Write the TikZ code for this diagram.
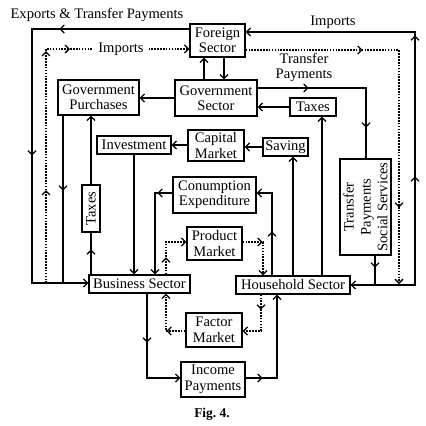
\documentclass[tikz,border=0pt]{standalone}
\usepackage{fontspec}
\setmainfont{Liberation Serif}
\usetikzlibrary{arrows.meta,decorations.markings}
\begin{document}
\begin{tikzpicture}[x=1bp,y=-1bp, line width=1.3bp,
  >={Straight Barb[length=4bp,width=8bp]},
  box/.style={draw, inner sep=0pt, align=center, font=\fontsize{14.6}{15.5}\selectfont},
  lab/.style={inner sep=1pt, align=center, font=\fontsize{14.6}{15.5}\selectfont},
  dot/.style={dash pattern=on 1.6bp off 1.3bp},
  marr/.style={postaction={decorate,decoration={markings,mark=at position #1 with {\arrow[solid]{>}}}}}
]
\useasboundingbox (0,0) rectangle (426,426);
% boxes
\node[box, minimum width=55bp, minimum height=33bp] (foreign) at (217.5,40.5) {Foreign\\Sector};
\node[box, minimum width=82bp, minimum height=36bp] (gov) at (216,98) {Government\\Sector};
\node[box, minimum width=81bp, minimum height=35bp] (govpur) at (98.5,97.5) {Government\\Purchases};
\node[box, minimum width=46bp, minimum height=18bp] (taxesR) at (313,107) {Taxes};
\node[box, minimum width=56bp, minimum height=31bp] (capital) at (216,145.5) {Capital\\Market};
\node[box, minimum width=74bp, minimum height=18bp] (invest) at (134,145) {Investment};
\node[box, minimum width=45bp, minimum height=18bp] (saving) at (285.5,147) {Saving};
\node[box, minimum width=83bp, minimum height=36bp] (consump) at (214.5,195) {Conumption\\Expenditure};
\node[box, minimum width=55bp, minimum height=33bp] (product) at (214.5,243.5) {Product\\Market};
\node[box, rotate=90, minimum width=47bp, minimum height=18bp] (taxesL) at (91,208.5) {Taxes};
\node[box, rotate=90, minimum width=96bp, minimum height=51bp, font=\fontsize{14.6}{17}\selectfont] (transfer) at (365.5,207) {Transfer\\Payments\\Social Services};
\node[box, minimum width=101bp, minimum height=18bp] (business) at (139.5,284) {Business Sector};
\node[box, minimum width=114bp, minimum height=18bp] (household) at (293,285) {Household Sector};
\node[box, minimum width=56bp, minimum height=34bp] (factor) at (214,330) {Factor\\Market};
\node[box, minimum width=64bp, minimum height=35bp] (income) at (213,379.5) {Income\\Payments};
% labels
\node[lab] (expl) at (97,15) {Exports \& Transfer Payments};
\node[lab] (impR) at (333,22) {Imports};
\node[lab] (trl) at (304,67.5) {Transfer\\Payments};
\node[lab, font=\bfseries\fontsize{13.5}{15}\selectfont] (fig) at (212,414) {Fig.\ 4.};
% coordinates
\coordinate (a1) at (32,29); \coordinate (a2) at (32,283);
\coordinate (b0) at (46,283); \coordinate (b1) at (46,49);
\coordinate (fg1) at (224,0); \coordinate (fg2) at (204,0);
\coordinate (d1) at (63,283);
\coordinate (hs) at (293,0); \coordinate (ht) at (322,0);
\coordinate (l1) at (366,88);
\coordinate (m1) at (375,285);
\coordinate (r1) at (415,285); \coordinate (r2) at (415,32);
\coordinate (s1) at (399,50); \coordinate (s2) at (399,284);
\coordinate (n1) at (272,193); \coordinate (o1) at (155,193);
\coordinate (p1) at (166,242); \coordinate (q1) at (263,242);
\coordinate (rr1) at (261,331); \coordinate (ss1) at (166,331);
\coordinate (t1) at (147,378); \coordinate (u1) at (277,378);
% connectors
\draw[->, marr=130bp, marr=284bp] (foreign.west |- a1) -- (a1) -- (a2) -- (business.west |- a2);
\draw[dot, ->, marr=93bp, marr=232bp, marr=258bp] (b0) -- (b1) -- (foreign.west |- b1);
\node[lab, fill=white, inner xsep=5bp] (impL) at (121,49) {Imports};
\draw[->] (fg1 |- foreign.south) -- (fg1 |- gov.north);
\draw[->] (fg2 |- gov.north) -- (fg2 |- foreign.south);
\draw[->] (gov.west) -- (govpur.east |- gov.west);
\draw[marr=75bp] (d1 |- govpur.south) -- (d1);
\draw[marr=25bp] (taxesL |- business.north) -- (taxesL.west);
\draw[->] (taxesL.east) -- (taxesL |- govpur.south);
\draw[->] (invest.south) -- (invest.south |- business.north);
\draw[->] (capital.west |- invest.east) -- (invest.east);
\draw[->] (saving.west) -- (saving.west -| capital.east);
\draw[->] (hs |- household.north) -- (hs |- saving.south);
\draw[->] (ht |- household.north) -- (ht |- taxesR.south);
\draw[->] (taxesR.west) -- (taxesR.west -| gov.east);
\draw[marr=51bp, marr=148bp] (gov.east |- l1) -- (l1) -- (l1 |- transfer.east);
\draw[->, marr=12bp] (m1 |- transfer.west) -- (m1) -- (household.east |- m1);
\draw[->, marr=173bp, marr=314bp] (household.east |- r1) -- (r1) -- (r2) -- (foreign.east |- r2);
\draw[dot, ->, marr=117bp, marr=311bp] (foreign.east |- s1) -- (s1) -- (s2);
\draw[->, marr=44bp] (n1 |- household.north) -- (n1) -- (consump.east |- n1);
\draw[->, marr=15bp] (consump.west |- o1) -- (o1) -- (o1 |- business.north);
\draw[dot, ->, marr=17bp] (p1 |- business.north) -- (p1) -- (product.west |- p1);
\draw[dot, ->, marr=20bp] (product.east |- q1) -- (q1) -- (q1 |- household.north);
\draw[dot, ->, marr=15bp] (rr1 |- household.south) -- (rr1) -- (factor.east |- rr1);
\draw[dot, ->, marr=19bp] (factor.west |- ss1) -- (ss1) -- (ss1 |- business.south);
\draw[->, marr=49bp] (t1 |- business.south) -- (t1) -- (income.west |- t1);
\draw[->, marr=17bp] (income.east |- u1) -- (u1) -- (u1 |- household.south);
\end{tikzpicture}
\end{document}
